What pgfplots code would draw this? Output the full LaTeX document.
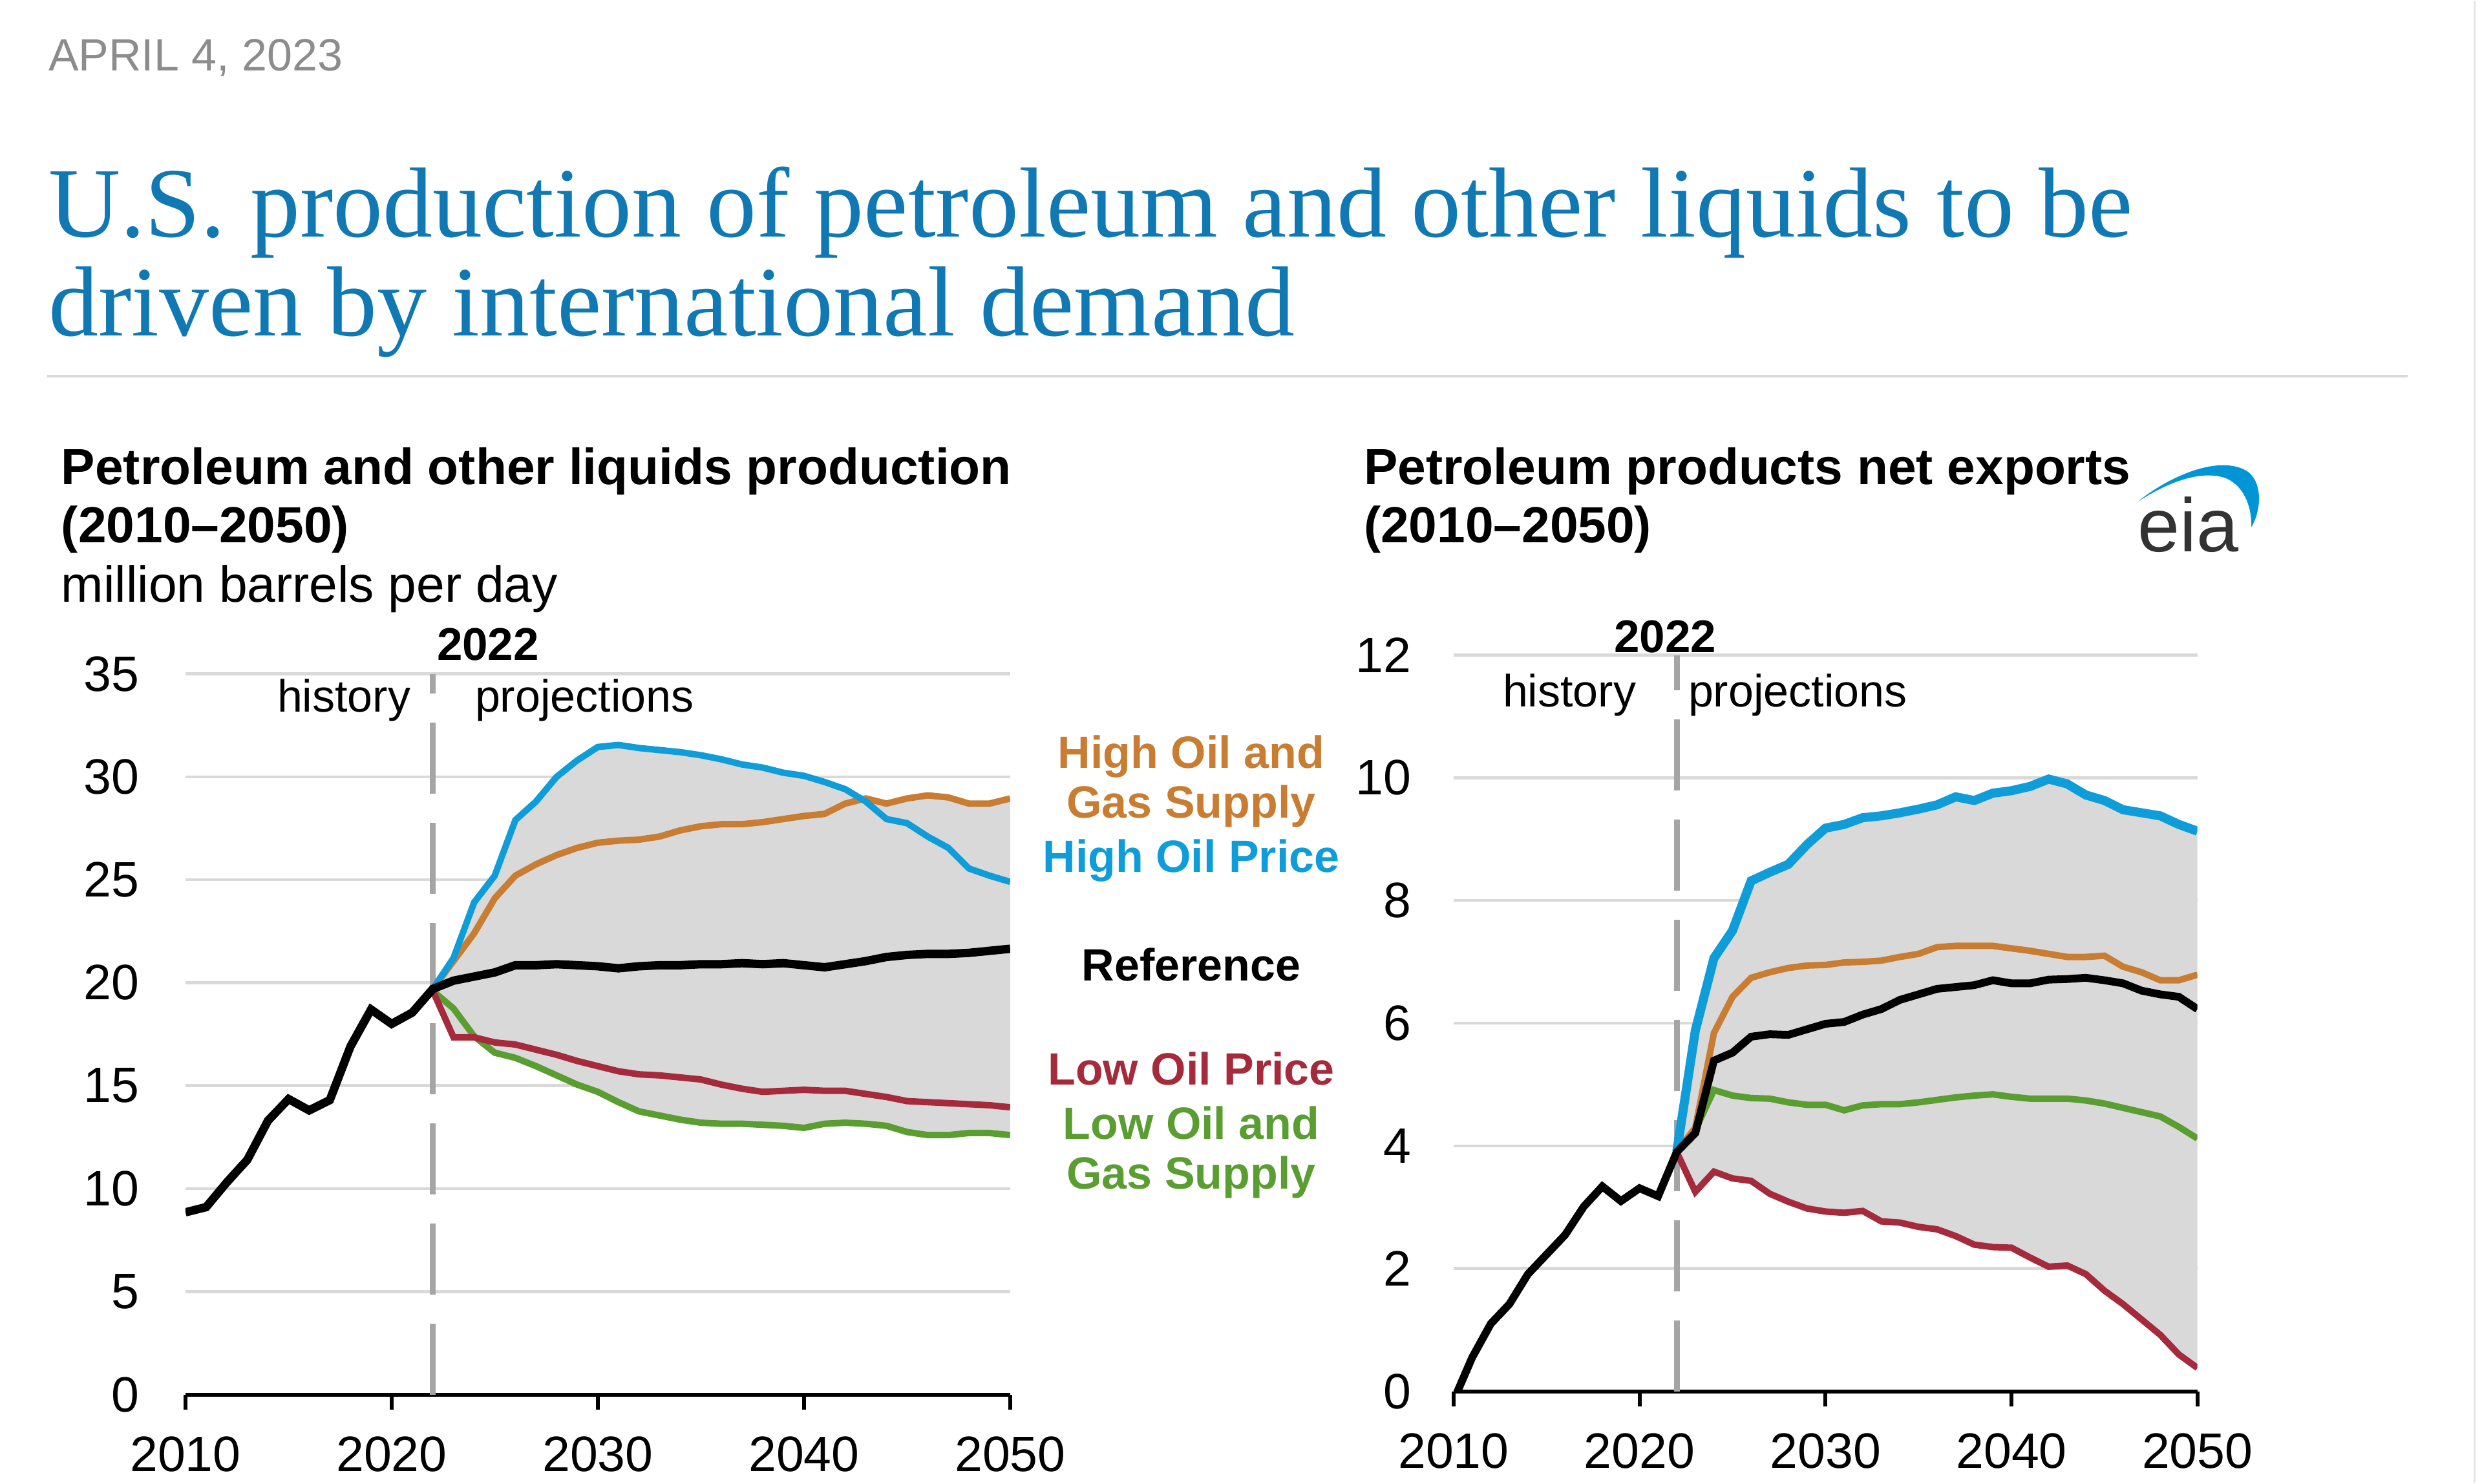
\documentclass[border=0pt]{standalone}
\usepackage{pgfplots}
\pgfplotsset{compat=1.18}
\usepackage{pgfplotstable}
\usepgfplotslibrary{fillbetween}
\usepackage{fontspec}
\setmainfont{Liberation Sans}
\newfontfamily\titlefont{Liberation Serif}

\definecolor{eiaorange}{RGB}{200,125,50}
\definecolor{eiablue}{RGB}{15,157,218}
\definecolor{eiared}{RGB}{165,42,60}
\definecolor{eiagreen}{RGB}{90,158,50}
\definecolor{bandgray}{RGB}{217,217,217}
\definecolor{gridgray}{RGB}{217,217,217}
\definecolor{dashgray}{RGB}{165,165,165}
\definecolor{titleblue}{RGB}{16,120,178}
\definecolor{dategray}{RGB}{140,140,140}
\definecolor{logogray}{RGB}{51,51,51}
\definecolor{logoblue}{RGB}{0,150,214}

% Left chart: petroleum and other liquids production
\pgfplotstableread{
year ref
2010 8.85
2011 9.1
2012 10.3
2013 11.4
2014 13.3
2015 14.35
2016 13.8
2017 14.3
2018 16.9
2019 18.7
2020 18.0
2021 18.55
2022 19.7
2023 20.1
2024 20.3
2025 20.5
2026 20.85
2027 20.85
2028 20.9
2029 20.85
2030 20.8
2031 20.7
2032 20.8
2033 20.85
2034 20.85
2035 20.9
2036 20.9
2037 20.95
2038 20.9
2039 20.95
2040 20.85
2041 20.75
2042 20.9
2043 21.05
2044 21.25
2045 21.35
2046 21.4
2047 21.4
2048 21.45
2049 21.55
2050 21.65
}\leftrefdata
\pgfplotstableread{
year hip hogs lop logs
2022 19.7 19.7 19.6 19.6
2023 21.2 21.05 17.35 18.75
2024 23.9 22.4 17.35 17.4
2025 25.2 24.1 17.1 16.6
2026 27.9 25.2 17.0 16.35
2027 28.8 25.75 16.75 15.95
2028 30.0 26.2 16.5 15.5
2029 30.8 26.55 16.2 15.05
2030 31.45 26.8 15.95 14.7
2031 31.55 26.9 15.7 14.2
2032 31.4 26.95 15.55 13.75
2033 31.3 27.1 15.5 13.55
2034 31.2 27.4 15.4 13.35
2035 31.05 27.6 15.3 13.2
2036 30.85 27.7 15.05 13.15
2037 30.6 27.7 14.85 13.15
2038 30.45 27.8 14.7 13.1
2039 30.2 27.95 14.75 13.05
2040 30.05 28.1 14.8 12.95
2041 29.75 28.2 14.75 13.15
2042 29.4 28.7 14.75 13.2
2043 28.8 28.95 14.6 13.15
2044 27.95 28.7 14.45 13.05
2045 27.75 28.95 14.25 12.75
2046 27.1 29.1 14.2 12.6
2047 26.55 29.0 14.15 12.6
2048 25.55 28.7 14.1 12.7
2049 25.2 28.7 14.05 12.7
2050 24.9 28.95 13.95 12.6
}\leftprojdata

% Right chart: petroleum products net exports
\pgfplotstableread{
year ref
2010 -0.15
2011 0.55
2012 1.1
2013 1.42
2014 1.91
2015 2.23
2016 2.55
2017 3.01
2018 3.34
2019 3.1
2020 3.31
2021 3.18
2022 3.9
2023 4.21
2024 5.39
2025 5.52
2026 5.78
2027 5.82
2028 5.81
2029 5.9
2030 5.99
2031 6.02
2032 6.14
2033 6.23
2034 6.38
2035 6.47
2036 6.56
2037 6.59
2038 6.62
2039 6.7
2040 6.65
2041 6.65
2042 6.71
2043 6.72
2044 6.74
2045 6.7
2046 6.65
2047 6.53
2048 6.47
2049 6.43
2050 6.23
}\rightrefdata
\pgfplotstableread{
year hip hogs lop logs
2022 3.9 3.9 3.9 3.9
2023 5.88 4.3 3.25 4.26
2024 7.06 5.84 3.58 4.91
2025 7.51 6.43 3.47 4.82
2026 8.32 6.74 3.43 4.78
2027 8.46 6.83 3.22 4.77
2028 8.59 6.9 3.09 4.71
2029 8.91 6.94 2.98 4.67
2030 9.18 6.95 2.93 4.67
2031 9.24 6.99 2.91 4.58
2032 9.35 7.0 2.94 4.66
2033 9.38 7.02 2.77 4.68
2034 9.43 7.08 2.75 4.68
2035 9.49 7.13 2.68 4.71
2036 9.56 7.24 2.64 4.75
2037 9.69 7.26 2.53 4.79
2038 9.63 7.26 2.39 4.82
2039 9.75 7.26 2.35 4.84
2040 9.79 7.22 2.34 4.8
2041 9.86 7.18 2.18 4.77
2042 9.98 7.13 2.03 4.77
2043 9.9 7.08 2.05 4.77
2044 9.72 7.08 1.91 4.74
2045 9.63 7.1 1.64 4.69
2046 9.48 6.92 1.42 4.62
2047 9.43 6.83 1.17 4.55
2048 9.38 6.7 0.92 4.48
2049 9.24 6.7 0.6 4.31
2050 9.13 6.79 0.38 4.12
}\rightprojdata

\pgfplotsset{
  eiaaxis/.style={
    scale only axis, anchor=south west,
    xmin=2010, xmax=2050, ymin=0,
    xtick={2010,2020,2030,2040,2050},
    axis x line*=bottom, axis y line*=left,
    y axis line style={draw=none},
    x axis line style={black, line width=0.6pt, -},
    ytick style={draw=none},
    xtick style={black, line width=0.6pt},
    major tick length=2.3pt, tick align=outside,
    ymajorgrids, grid style={gridgray, line width=0.45pt},
    /pgf/number format/assume math mode=true,
    /pgf/number format/1000 sep={},
    ticklabel style={font=\fontsize{7.7}{9}\selectfont, inner sep=0pt},
    xticklabel style={anchor=north, yshift=-4pt},
    set layers, clip=true,
  }
}

\newcommand{\annfont}{\fontsize{7}{8}\selectfont}
\newcommand{\legfont}{\fontsize{7}{8}\selectfont\bfseries}
\newcommand{\subfont}{\fontsize{7.85}{9}\selectfont\bfseries}

\begin{document}
\begin{tikzpicture}[x=0.1pt, y=0.1pt]
\path (0,0) rectangle (3840,2292);

% header
\node[anchor=base west, inner sep=0pt, text=dategray, font=\fontsize{7}{8}\selectfont] at (73,2184) {APRIL 4, 2023};
\node[anchor=base west, inner sep=0pt, text=titleblue, font=\titlefont\fontsize{15.4}{15.4}\selectfont] at (73,1927) {U.S. production of petroleum and other liquids to be};
\node[anchor=base west, inner sep=0pt, text=titleblue, font=\titlefont\fontsize{15.4}{15.4}\selectfont] at (73,1774) {driven by international demand};
\draw[gridgray, line width=0.4pt] (73,1712) -- (3725,1712);
\draw[gridgray!70, line width=0.3pt] (3828,0) -- (3828,2292);

% subtitles
\node[anchor=base west, inner sep=0pt, font=\subfont] at (93,1544) {Petroleum and other liquids production};
\node[anchor=base west, inner sep=0pt, font=\subfont] at (93,1454) {(2010–2050)};
\node[anchor=base west, inner sep=0pt, font=\fontsize{7.85}{9}\selectfont] at (93,1362) {million barrels per day};
\node[anchor=base west, inner sep=0pt, font=\subfont] at (2108,1544) {Petroleum products net exports};
\node[anchor=base west, inner sep=0pt, font=\subfont] at (2108,1454) {(2010–2050)};

% eia logo
\node[anchor=base west, inner sep=0pt, text=logogray, font=\fontsize{11.7}{12}\selectfont] at (3305,1440) {eia};
\fill[logoblue] (3307,1517) .. controls (3360,1560) and (3440,1592) .. (3480,1562)
  .. controls (3502,1542) and (3497,1500) .. (3483,1478)
  .. controls (3484,1512) and (3470,1545) .. (3440,1555)
  .. controls (3400,1566) and (3350,1545) .. (3307,1517) -- cycle;

% ===== Left chart =====
\begin{axis}[eiaaxis, at={(28.7pt,13.6pt)}, width=127.6pt, height=111.5pt,
  ymax=35, ytick={0,5,...,35},
  yticklabel style={anchor=east, xshift=-4.7pt}]
\draw[dashgray, line width=0.9pt, dash pattern=on 11pt off 4.5pt] (axis cs:2022,0) -- (axis cs:2022,35);
\addplot[eiagreen, line width=1.0pt, name path=Llogs] table[x=year, y=logs] {\leftprojdata};
\addplot[eiared, line width=1.0pt, name path=Llop] table[x=year, y=lop] {\leftprojdata};
\addplot[eiaorange, line width=1.0pt, name path=Lhogs] table[x=year, y=hogs] {\leftprojdata};
\addplot[eiablue, line width=1.0pt, name path=Lhip] table[x=year, y=hip] {\leftprojdata};
\addplot[bandgray, draw=none] fill between[of=Lhip and Llogs];
\addplot[bandgray, draw=none] fill between[of=Lhogs and Llop];
\addplot[black, line width=1.3pt] table[x=year, y=ref] {\leftrefdata};
\end{axis}

% left annotations
\node[anchor=base west, inner sep=0pt, font=\fontsize{7.1}{8}\selectfont\bfseries] at (674,1272) {2022};
\node[anchor=base west, inner sep=0pt, font=\annfont] at (427,1192) {history};
\node[anchor=base west, inner sep=0pt, font=\annfont] at (733,1192) {projections};

% legend labels
\node[anchor=base, inner sep=0pt, font=\legfont, text=eiaorange] at (1843,1105) {High Oil and};
\node[anchor=base, inner sep=0pt, font=\legfont, text=eiaorange] at (1843,1028) {Gas Supply};
\node[anchor=base, inner sep=0pt, font=\legfont, text=eiablue] at (1843,944) {High Oil Price};
\node[anchor=base, inner sep=0pt, font=\legfont, text=black] at (1843,776) {Reference};
\node[anchor=base, inner sep=0pt, font=\legfont, text=eiared] at (1843,615) {Low Oil Price};
\node[anchor=base, inner sep=0pt, font=\legfont, text=eiagreen] at (1843,531) {Low Oil and};
\node[anchor=base, inner sep=0pt, font=\legfont, text=eiagreen] at (1843,454) {Gas Supply};

% ===== Right chart =====
\begin{axis}[eiaaxis, at={(224.9pt,14.1pt)}, width=115.1pt, height=113.9pt,
  ymax=12, ytick={0,2,...,12},
  yticklabel style={anchor=east, xshift=-4.1pt}]
\draw[dashgray, line width=0.9pt, dash pattern=on 11pt off 4.5pt] (axis cs:2022,0) -- (axis cs:2022,12);
\addplot[eiared, line width=1.0pt, name path=Rlop] table[x=year, y=lop] {\rightprojdata};
\addplot[eiagreen, line width=1.0pt] table[x=year, y=logs] {\rightprojdata};
\addplot[eiaorange, line width=1.0pt] table[x=year, y=hogs] {\rightprojdata};
\addplot[eiablue, line width=1.4pt, name path=Rhip] table[x=year, y=hip] {\rightprojdata};
\addplot[bandgray, draw=none] fill between[of=Rhip and Rlop];
\addplot[black, line width=1.2pt] table[x=year, y=ref] {\rightrefdata};
\end{axis}

% right annotations
\node[anchor=base, inner sep=0pt, font=\fontsize{7.1}{8}\selectfont\bfseries] at (2576,1284) {2022};
\node[anchor=base west, inner sep=0pt, font=\annfont] at (2323,1200) {history};
\node[anchor=base west, inner sep=0pt, font=\annfont] at (2610,1200) {projections};

\end{tikzpicture}
\end{document}
